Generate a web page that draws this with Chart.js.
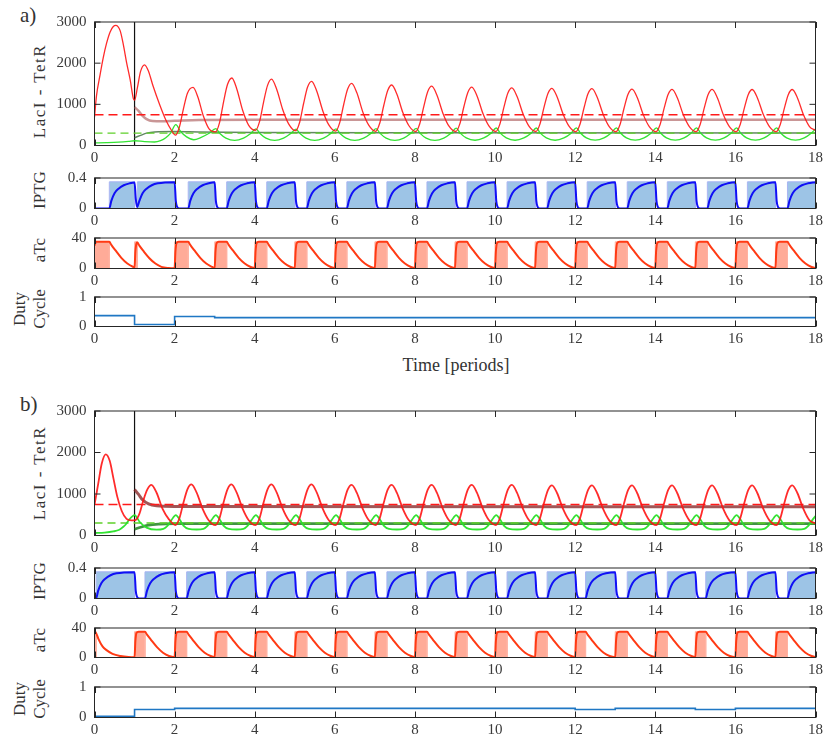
<!DOCTYPE html>
<html>
<head>
<meta charset="utf-8">
<script src="https://cdn.jsdelivr.net/npm/chart.js@4.4.1/dist/chart.umd.min.js"></script>
<style>
  body { margin: 0; background: #fff; }
  #fig { position: relative; width: 827px; height: 743px; font-family: "Liberation Serif", "DejaVu Serif", serif; color: #333; overflow: hidden; }
  #fig canvas { position: absolute; left: 0; }
  .tag { position: absolute; font-size: 21px; }
  .ylab { position: absolute; white-space: nowrap; transform: translate(-50%, -50%) rotate(-90deg); font-size: 17px; }
  .xlab { position: absolute; white-space: nowrap; transform: translate(-50%, -50%); font-size: 18px; }
</style>
</head>
<body>
<div id="fig">
  <div class="tag" style="left:20px;top:3px">a)</div>
  <div class="tag" style="left:20px;top:392px">b)</div>
  <div class="ylab" style="left:40px;top:91px;letter-spacing:1.5px">LacI - TetR</div>
  <div class="ylab" style="left:40px;top:190px">IPTG</div>
  <div class="ylab" style="left:40px;top:250px">aTc</div>
  <div class="ylab" style="left:20px;top:309px">Duty</div>
  <div class="ylab" style="left:40px;top:309px">Cycle</div>
  <div class="xlab" style="left:456px;top:365px">Time [periods]</div>
  <div class="ylab" style="left:40px;top:473px;letter-spacing:1.5px">LacI - TetR</div>
  <div class="ylab" style="left:40px;top:581px">IPTG</div>
  <div class="ylab" style="left:40px;top:640px">aTc</div>
  <div class="ylab" style="left:20px;top:699px">Duty</div>
  <div class="ylab" style="left:40px;top:699px">Cycle</div>
</div>
<script>
// ---- data -------------------------------------------------------------
const timeTicks = [0, 2, 4, 6, 8, 10, 12, 14, 16, 18];
const lacTicks = [0, 1000, 2000, 3000];
const iptgTicks = [0, 0.2, 0.4];
const atcTicks = [0, 20, 40];
const dutyTicks = [0, 0.5, 1];

const controlStart = 1;      // feedback switched on after first period
const lacRef = 750;          // LacI reference
const tetRef = 300;          // TetR reference
const iptgDose = 0.35;
const atcDose = 35;

// duty cycle (aTc fraction) per period
const dutyA = [0.37, 0.07, 0.34, 0.30, 0.30, 0.30, 0.30, 0.30, 0.30, 0.30, 0.30, 0.30, 0.30, 0.30, 0.30, 0.30, 0.30, 0.30];
const dutyB = [0.04, 0.26, 0.30, 0.30, 0.30, 0.30, 0.30, 0.30, 0.30, 0.30, 0.30, 0.30, 0.26, 0.30, 0.30, 0.26, 0.30, 0.30];

// case a) LacI / TetR, [time, value]
const lacA = [
  [0, 690], [0.05, 1210], [0.14, 1720], [0.22, 2140], [0.3, 2480], [0.39, 2760], [0.47, 2890], [0.53, 2920], [0.64, 2790], [0.72, 2450], [0.8, 2020], [0.89, 1600], [0.97, 1140],
  [1, 1100], [1.07, 1400], [1.15, 1800], [1.25, 1960], [1.35, 1800], [1.46, 1450], [1.63, 985], [1.79, 600], [1.92, 370],
  [2.02, 250], [2.12, 450], [2.22, 890], [2.32, 1270], [2.46, 1410], [2.58, 1180], [2.72, 710], [2.87, 390],
  [3.02, 330], [3.12, 550], [3.22, 1050], [3.32, 1480], [3.43, 1640], [3.55, 1380], [3.7, 850], [3.85, 490],
  [4.02, 370], [4.12, 580], [4.22, 1050], [4.32, 1460], [4.42, 1610], [4.55, 1360], [4.7, 870], [4.85, 520],
  [5.02, 360], [5.12, 560], [5.22, 1020], [5.32, 1420], [5.42, 1560], [5.55, 1320], [5.7, 840], [5.85, 500],
  [6.02, 350], [6.12, 550], [6.22, 990], [6.32, 1370], [6.42, 1510], [6.55, 1280], [6.7, 810], [6.85, 490],
  [7.02, 345], [7.12, 540], [7.22, 965], [7.32, 1335], [7.42, 1470], [7.55, 1245], [7.7, 795], [7.85, 480],
  [8.02, 340], [8.12, 530], [8.22, 945], [8.32, 1310], [8.42, 1440], [8.55, 1220], [8.7, 780], [8.85, 470],
  [9.02, 340], [9.12, 525], [9.22, 935], [9.32, 1290], [9.42, 1420], [9.55, 1205], [9.7, 770], [9.85, 470],
  [10.02, 340], [10.12, 520], [10.22, 925], [10.32, 1275], [10.42, 1400], [10.55, 1190], [10.7, 765], [10.85, 465],
  [11.02, 340], [11.12, 520], [11.22, 920], [11.32, 1265], [11.42, 1390], [11.55, 1180], [11.7, 760], [11.85, 465],
  [12.02, 335], [12.12, 515], [12.22, 910], [12.32, 1255], [12.42, 1380], [12.55, 1170], [12.7, 755], [12.85, 460],
  [13.02, 335], [13.12, 510], [13.22, 905], [13.32, 1245], [13.42, 1370], [13.55, 1165], [13.7, 750], [13.85, 460],
  [14.02, 335], [14.12, 510], [14.22, 900], [14.32, 1240], [14.42, 1365], [14.55, 1160], [14.7, 745], [14.85, 460],
  [15.02, 335], [15.12, 510], [15.22, 900], [15.32, 1240], [15.42, 1365], [15.55, 1160], [15.7, 745], [15.85, 460],
  [16.02, 335], [16.12, 510], [16.22, 895], [16.32, 1235], [16.42, 1360], [16.55, 1155], [16.7, 745], [16.85, 460],
  [17.02, 335], [17.12, 510], [17.22, 895], [17.32, 1235], [17.42, 1360], [17.55, 1155], [17.7, 745], [17.85, 460],
  [18, 370]
];
const tetA = [
  [0, 62], [0.3, 70], [0.6, 82], [0.85, 100], [1, 115], [1.25, 95], [1.5, 85], [1.65, 120], [1.78, 190], [1.9, 300],
  [2.03, 505], [2.15, 340], [2.3, 210], [2.48, 140], [2.65, 190], [2.85, 290],
  [3.03, 410], [3.13, 290], [3.28, 180], [3.5, 125], [3.72, 180], [3.9, 290],
  [4.03, 405], [4.13, 290], [4.28, 180], [4.5, 125], [4.72, 180], [4.9, 290],
  [5.03, 400], [5.13, 290], [5.28, 180], [5.5, 125], [5.72, 180], [5.9, 290],
  [6.03, 405], [6.13, 290], [6.28, 180], [6.5, 125], [6.72, 180], [6.9, 290],
  [7.03, 410], [7.13, 295], [7.28, 180], [7.5, 125], [7.72, 180], [7.9, 295],
  [8.03, 415], [8.13, 295], [8.28, 180], [8.5, 125], [8.72, 180], [8.9, 295],
  [9.03, 420], [9.13, 300], [9.28, 185], [9.5, 128], [9.72, 185], [9.9, 300],
  [10.03, 425], [10.13, 300], [10.28, 185], [10.5, 128], [10.72, 185], [10.9, 300],
  [11.03, 425], [11.13, 300], [11.28, 185], [11.5, 128], [11.72, 185], [11.9, 300],
  [12.03, 430], [12.13, 305], [12.28, 185], [12.5, 130], [12.72, 185], [12.9, 305],
  [13.03, 430], [13.13, 305], [13.28, 185], [13.5, 130], [13.72, 185], [13.9, 305],
  [14.03, 430], [14.13, 305], [14.28, 185], [14.5, 130], [14.72, 185], [14.9, 305],
  [15.03, 430], [15.13, 305], [15.28, 185], [15.5, 130], [15.72, 185], [15.9, 305],
  [16.03, 430], [16.13, 305], [16.28, 185], [16.5, 130], [16.72, 185], [16.9, 305],
  [17.03, 430], [17.13, 305], [17.28, 185], [17.5, 130], [17.72, 185], [17.9, 305],
  [18, 400]
];
const lacMeanA = [[1, 930], [1.1, 840], [1.2, 720], [1.3, 640], [1.45, 595], [1.7, 590], [2, 600], [2.6, 620], [4, 625], [18, 625]];
const tetMeanA = [[1, 190], [1.15, 245], [1.3, 300], [1.5, 330], [2, 340], [2.6, 330], [4, 315], [8, 308], [18, 305]];

const iptgA = [
  [0, 0], [0.37, 0], [0.42, 0.1], [0.5, 0.2], [0.6, 0.26], [0.73, 0.305], [0.88, 0.33], [1, 0.34],
  [1.03, 0.13], [1.065, 0.02], [1.12, 0.1], [1.2, 0.2], [1.3, 0.26], [1.43, 0.305], [1.58, 0.33], [2, 0.345],
  [2.03, 0.1], [2.06, 0.025], [2.12, 0], [2.34, 0], [2.39, 0.1], [2.47, 0.2], [2.57, 0.26], [2.7, 0.305], [2.85, 0.33], [3, 0.345],
  [3.03, 0.1], [3.06, 0.025], [3.12, 0], [3.3, 0], [3.35, 0.1], [3.43, 0.2], [3.53, 0.26], [3.66, 0.305], [3.81, 0.33], [4, 0.345],
  [4.03, 0.1], [4.06, 0.025], [4.12, 0], [4.3, 0], [4.35, 0.1], [4.43, 0.2], [4.53, 0.26], [4.66, 0.305], [4.81, 0.33], [5, 0.345],
  [5.03, 0.1], [5.06, 0.025], [5.12, 0], [5.3, 0], [5.35, 0.1], [5.43, 0.2], [5.53, 0.26], [5.66, 0.305], [5.81, 0.33], [6, 0.345],
  [6.03, 0.1], [6.06, 0.025], [6.12, 0], [6.3, 0], [6.35, 0.1], [6.43, 0.2], [6.53, 0.26], [6.66, 0.305], [6.81, 0.33], [7, 0.345],
  [7.03, 0.1], [7.06, 0.025], [7.12, 0], [7.3, 0], [7.35, 0.1], [7.43, 0.2], [7.53, 0.26], [7.66, 0.305], [7.81, 0.33], [8, 0.345],
  [8.03, 0.1], [8.06, 0.025], [8.12, 0], [8.3, 0], [8.35, 0.1], [8.43, 0.2], [8.53, 0.26], [8.66, 0.305], [8.81, 0.33], [9, 0.345],
  [9.03, 0.1], [9.06, 0.025], [9.12, 0], [9.3, 0], [9.35, 0.1], [9.43, 0.2], [9.53, 0.26], [9.66, 0.305], [9.81, 0.33], [10, 0.345],
  [10.03, 0.1], [10.06, 0.025], [10.12, 0], [10.3, 0], [10.35, 0.1], [10.43, 0.2], [10.53, 0.26], [10.66, 0.305], [10.81, 0.33], [11, 0.345],
  [11.03, 0.1], [11.06, 0.025], [11.12, 0], [11.3, 0], [11.35, 0.1], [11.43, 0.2], [11.53, 0.26], [11.66, 0.305], [11.81, 0.33], [12, 0.345],
  [12.03, 0.1], [12.06, 0.025], [12.12, 0], [12.3, 0], [12.35, 0.1], [12.43, 0.2], [12.53, 0.26], [12.66, 0.305], [12.81, 0.33], [13, 0.345],
  [13.03, 0.1], [13.06, 0.025], [13.12, 0], [13.3, 0], [13.35, 0.1], [13.43, 0.2], [13.53, 0.26], [13.66, 0.305], [13.81, 0.33], [14, 0.345],
  [14.03, 0.1], [14.06, 0.025], [14.12, 0], [14.3, 0], [14.35, 0.1], [14.43, 0.2], [14.53, 0.26], [14.66, 0.305], [14.81, 0.33], [15, 0.345],
  [15.03, 0.1], [15.06, 0.025], [15.12, 0], [15.3, 0], [15.35, 0.1], [15.43, 0.2], [15.53, 0.26], [15.66, 0.305], [15.81, 0.33], [16, 0.345],
  [16.03, 0.1], [16.06, 0.025], [16.12, 0], [16.3, 0], [16.35, 0.1], [16.43, 0.2], [16.53, 0.26], [16.66, 0.305], [16.81, 0.33], [17, 0.345],
  [17.03, 0.1], [17.06, 0.025], [17.12, 0], [17.3, 0], [17.35, 0.1], [17.43, 0.2], [17.53, 0.26], [17.66, 0.305], [17.81, 0.33], [18, 0.345]
];
const atcA = [
  [0, 30], [0.04, 35], [0.37, 35], [0.42, 31], [0.52, 24], [0.67, 14], [0.82, 6.5], [0.97, 2],
  [1, 1.5], [1.02, 22], [1.05, 33], [1.07, 34], [1.12, 30], [1.22, 23], [1.37, 13.5], [1.52, 6.5], [1.67, 2.2], [1.85, 0.6],
  [2, 0.3], [2.02, 22], [2.05, 33.5], [2.1, 35], [2.34, 35], [2.39, 31], [2.49, 24], [2.64, 14], [2.79, 6.5], [2.94, 2],
  [3, 0.5], [3.02, 22], [3.05, 33.5], [3.1, 35], [3.3, 35], [3.35, 31], [3.45, 24], [3.6, 14], [3.75, 6.5], [3.9, 2],
  [4, 0.5], [4.02, 22], [4.05, 33.5], [4.1, 35], [4.3, 35], [4.35, 31], [4.45, 24], [4.6, 14], [4.75, 6.5], [4.9, 2],
  [5, 0.5], [5.02, 22], [5.05, 33.5], [5.1, 35], [5.3, 35], [5.35, 31], [5.45, 24], [5.6, 14], [5.75, 6.5], [5.9, 2],
  [6, 0.5], [6.02, 22], [6.05, 33.5], [6.1, 35], [6.3, 35], [6.35, 31], [6.45, 24], [6.6, 14], [6.75, 6.5], [6.9, 2],
  [7, 0.5], [7.02, 22], [7.05, 33.5], [7.1, 35], [7.3, 35], [7.35, 31], [7.45, 24], [7.6, 14], [7.75, 6.5], [7.9, 2],
  [8, 0.5], [8.02, 22], [8.05, 33.5], [8.1, 35], [8.3, 35], [8.35, 31], [8.45, 24], [8.6, 14], [8.75, 6.5], [8.9, 2],
  [9, 0.5], [9.02, 22], [9.05, 33.5], [9.1, 35], [9.3, 35], [9.35, 31], [9.45, 24], [9.6, 14], [9.75, 6.5], [9.9, 2],
  [10, 0.5], [10.02, 22], [10.05, 33.5], [10.1, 35], [10.3, 35], [10.35, 31], [10.45, 24], [10.6, 14], [10.75, 6.5], [10.9, 2],
  [11, 0.5], [11.02, 22], [11.05, 33.5], [11.1, 35], [11.3, 35], [11.35, 31], [11.45, 24], [11.6, 14], [11.75, 6.5], [11.9, 2],
  [12, 0.5], [12.02, 22], [12.05, 33.5], [12.1, 35], [12.3, 35], [12.35, 31], [12.45, 24], [12.6, 14], [12.75, 6.5], [12.9, 2],
  [13, 0.5], [13.02, 22], [13.05, 33.5], [13.1, 35], [13.3, 35], [13.35, 31], [13.45, 24], [13.6, 14], [13.75, 6.5], [13.9, 2],
  [14, 0.5], [14.02, 22], [14.05, 33.5], [14.1, 35], [14.3, 35], [14.35, 31], [14.45, 24], [14.6, 14], [14.75, 6.5], [14.9, 2],
  [15, 0.5], [15.02, 22], [15.05, 33.5], [15.1, 35], [15.3, 35], [15.35, 31], [15.45, 24], [15.6, 14], [15.75, 6.5], [15.9, 2],
  [16, 0.5], [16.02, 22], [16.05, 33.5], [16.1, 35], [16.3, 35], [16.35, 31], [16.45, 24], [16.6, 14], [16.75, 6.5], [16.9, 2],
  [17, 0.5], [17.02, 22], [17.05, 33.5], [17.1, 35], [17.3, 35], [17.35, 31], [17.45, 24], [17.6, 14], [17.75, 6.5], [17.9, 2],
  [18, 0.5]
];

// case b)
const lacB = [
  [0, 740], [0.09, 1230], [0.18, 1730], [0.28, 1955], [0.38, 1800], [0.47, 1390], [0.57, 930], [0.68, 590], [0.8, 400], [0.92, 365],
  [1.02, 370], [1.12, 520], [1.22, 850], [1.32, 1110], [1.42, 1220], [1.55, 1030], [1.7, 640], [1.85, 400],
  [2.02, 250], [2.12, 417], [2.22, 789], [2.32, 1112], [2.42, 1230], [2.55, 1034], [2.7, 642], [2.85, 368],
  [3.02, 250], [3.12, 417], [3.22, 789], [3.32, 1112], [3.42, 1230], [3.55, 1034], [3.7, 642], [3.85, 368],
  [4.02, 250], [4.12, 417], [4.22, 789], [4.32, 1112], [4.42, 1230], [4.55, 1034], [4.7, 642], [4.85, 368],
  [5.02, 250], [5.12, 417], [5.22, 789], [5.32, 1112], [5.42, 1230], [5.55, 1034], [5.7, 642], [5.85, 368],
  [6.02, 250], [6.12, 415], [6.22, 784], [6.32, 1104], [6.42, 1220], [6.55, 1026], [6.7, 638], [6.85, 366],
  [7.02, 250], [7.12, 415], [7.22, 784], [7.32, 1104], [7.42, 1220], [7.55, 1026], [7.7, 638], [7.85, 366],
  [8.02, 250], [8.12, 415], [8.22, 784], [8.32, 1104], [8.42, 1220], [8.55, 1026], [8.7, 638], [8.85, 366],
  [9.02, 250], [9.12, 415], [9.22, 784], [9.32, 1104], [9.42, 1220], [9.55, 1026], [9.7, 638], [9.85, 366],
  [10.02, 250], [10.12, 415], [10.22, 784], [10.32, 1104], [10.42, 1220], [10.55, 1026], [10.7, 638], [10.85, 366],
  [11.02, 250], [11.12, 413], [11.22, 778], [11.32, 1095], [11.42, 1210], [11.55, 1018], [11.7, 634], [11.85, 365],
  [12.02, 250], [12.12, 413], [12.22, 778], [12.32, 1095], [12.42, 1210], [12.55, 1018], [12.7, 634], [12.85, 365],
  [13.02, 250], [13.12, 413], [13.22, 778], [13.32, 1095], [13.42, 1210], [13.55, 1018], [13.7, 634], [13.85, 365],
  [14.02, 250], [14.12, 413], [14.22, 778], [14.32, 1095], [14.42, 1210], [14.55, 1018], [14.7, 634], [14.85, 365],
  [15.02, 250], [15.12, 413], [15.22, 778], [15.32, 1095], [15.42, 1210], [15.55, 1018], [15.7, 634], [15.85, 365],
  [16.02, 250], [16.12, 413], [16.22, 778], [16.32, 1095], [16.42, 1210], [16.55, 1018], [16.7, 634], [16.85, 365],
  [17.02, 250], [17.12, 413], [17.22, 778], [17.32, 1095], [17.42, 1210], [17.55, 1018], [17.7, 634], [17.85, 365],
  [18, 290]
];
const tetB = [
  [0, 60], [0.25, 70], [0.47, 98], [0.62, 140], [0.72, 210], [0.8, 290], [0.88, 400], [1, 493],
  [1.13, 325], [1.3, 190], [1.55, 140], [1.72, 160], [1.82, 230], [1.92, 370],
  [2.03, 490], [2.13, 380], [2.22, 240], [2.35, 160], [2.55, 145], [2.72, 160], [2.82, 230], [2.92, 370],
  [3.03, 490], [3.13, 380], [3.22, 240], [3.35, 160], [3.55, 145], [3.72, 160], [3.82, 230], [3.92, 370],
  [4.03, 490], [4.13, 380], [4.22, 240], [4.35, 160], [4.55, 145], [4.72, 160], [4.82, 230], [4.92, 370],
  [5.03, 490], [5.13, 380], [5.22, 240], [5.35, 160], [5.55, 145], [5.72, 160], [5.82, 230], [5.92, 370],
  [6.03, 490], [6.13, 380], [6.22, 240], [6.35, 160], [6.55, 145], [6.72, 160], [6.82, 230], [6.92, 370],
  [7.03, 490], [7.13, 380], [7.22, 240], [7.35, 160], [7.55, 145], [7.72, 160], [7.82, 230], [7.92, 370],
  [8.03, 490], [8.13, 380], [8.22, 240], [8.35, 160], [8.55, 145], [8.72, 160], [8.82, 230], [8.92, 370],
  [9.03, 490], [9.13, 380], [9.22, 240], [9.35, 160], [9.55, 145], [9.72, 160], [9.82, 230], [9.92, 370],
  [10.03, 490], [10.13, 380], [10.22, 240], [10.35, 160], [10.55, 145], [10.72, 160], [10.82, 230], [10.92, 370],
  [11.03, 490], [11.13, 380], [11.22, 240], [11.35, 160], [11.55, 145], [11.72, 160], [11.82, 230], [11.92, 370],
  [12.03, 490], [12.13, 380], [12.22, 240], [12.35, 160], [12.55, 145], [12.72, 160], [12.82, 230], [12.92, 370],
  [13.03, 490], [13.13, 380], [13.22, 240], [13.35, 160], [13.55, 145], [13.72, 160], [13.82, 230], [13.92, 370],
  [14.03, 490], [14.13, 380], [14.22, 240], [14.35, 160], [14.55, 145], [14.72, 160], [14.82, 230], [14.92, 370],
  [15.03, 490], [15.13, 380], [15.22, 240], [15.35, 160], [15.55, 145], [15.72, 160], [15.82, 230], [15.92, 370],
  [16.03, 490], [16.13, 380], [16.22, 240], [16.35, 160], [16.55, 145], [16.72, 160], [16.82, 230], [16.92, 370],
  [17.03, 490], [17.13, 380], [17.22, 240], [17.35, 160], [17.55, 145], [17.72, 160], [17.82, 230], [17.92, 370],
  [18, 470]
];
const lacMeanB = [[1, 1110], [1.1, 990], [1.2, 860], [1.35, 760], [1.55, 715], [2, 700], [18, 690]];
const tetMeanB = [[1, 150], [1.15, 200], [1.35, 250], [1.6, 275], [2, 285], [18, 285]];

const iptgB = [
  [0, 0], [0.04, 0], [0.09, 0.1], [0.17, 0.2], [0.27, 0.26], [0.4, 0.305], [0.55, 0.33], [1, 0.345],
  [1.03, 0.1], [1.06, 0.025], [1.12, 0], [1.26, 0], [1.31, 0.1], [1.39, 0.2], [1.49, 0.26], [1.62, 0.305], [1.77, 0.33], [2, 0.345],
  [2.03, 0.1], [2.06, 0.025], [2.12, 0], [2.3, 0], [2.35, 0.1], [2.43, 0.2], [2.53, 0.26], [2.66, 0.305], [2.81, 0.33], [3, 0.345],
  [3.03, 0.1], [3.06, 0.025], [3.12, 0], [3.3, 0], [3.35, 0.1], [3.43, 0.2], [3.53, 0.26], [3.66, 0.305], [3.81, 0.33], [4, 0.345],
  [4.03, 0.1], [4.06, 0.025], [4.12, 0], [4.3, 0], [4.35, 0.1], [4.43, 0.2], [4.53, 0.26], [4.66, 0.305], [4.81, 0.33], [5, 0.345],
  [5.03, 0.1], [5.06, 0.025], [5.12, 0], [5.3, 0], [5.35, 0.1], [5.43, 0.2], [5.53, 0.26], [5.66, 0.305], [5.81, 0.33], [6, 0.345],
  [6.03, 0.1], [6.06, 0.025], [6.12, 0], [6.3, 0], [6.35, 0.1], [6.43, 0.2], [6.53, 0.26], [6.66, 0.305], [6.81, 0.33], [7, 0.345],
  [7.03, 0.1], [7.06, 0.025], [7.12, 0], [7.3, 0], [7.35, 0.1], [7.43, 0.2], [7.53, 0.26], [7.66, 0.305], [7.81, 0.33], [8, 0.345],
  [8.03, 0.1], [8.06, 0.025], [8.12, 0], [8.3, 0], [8.35, 0.1], [8.43, 0.2], [8.53, 0.26], [8.66, 0.305], [8.81, 0.33], [9, 0.345],
  [9.03, 0.1], [9.06, 0.025], [9.12, 0], [9.3, 0], [9.35, 0.1], [9.43, 0.2], [9.53, 0.26], [9.66, 0.305], [9.81, 0.33], [10, 0.345],
  [10.03, 0.1], [10.06, 0.025], [10.12, 0], [10.3, 0], [10.35, 0.1], [10.43, 0.2], [10.53, 0.26], [10.66, 0.305], [10.81, 0.33], [11, 0.345],
  [11.03, 0.1], [11.06, 0.025], [11.12, 0], [11.3, 0], [11.35, 0.1], [11.43, 0.2], [11.53, 0.26], [11.66, 0.305], [11.81, 0.33], [12, 0.345],
  [12.03, 0.1], [12.06, 0.025], [12.12, 0], [12.26, 0], [12.31, 0.1], [12.39, 0.2], [12.49, 0.26], [12.62, 0.305], [12.77, 0.33], [13, 0.345],
  [13.03, 0.1], [13.06, 0.025], [13.12, 0], [13.3, 0], [13.35, 0.1], [13.43, 0.2], [13.53, 0.26], [13.66, 0.305], [13.81, 0.33], [14, 0.345],
  [14.03, 0.1], [14.06, 0.025], [14.12, 0], [14.3, 0], [14.35, 0.1], [14.43, 0.2], [14.53, 0.26], [14.66, 0.305], [14.81, 0.33], [15, 0.345],
  [15.03, 0.1], [15.06, 0.025], [15.12, 0], [15.26, 0], [15.31, 0.1], [15.39, 0.2], [15.49, 0.26], [15.62, 0.305], [15.77, 0.33], [16, 0.345],
  [16.03, 0.1], [16.06, 0.025], [16.12, 0], [16.3, 0], [16.35, 0.1], [16.43, 0.2], [16.53, 0.26], [16.66, 0.305], [16.81, 0.33], [17, 0.345],
  [17.03, 0.1], [17.06, 0.025], [17.12, 0], [17.3, 0], [17.35, 0.1], [17.43, 0.2], [17.53, 0.26], [17.66, 0.305], [17.81, 0.33], [18, 0.345]
];
const atcB = [
  [0, 35], [0.04, 33], [0.1, 25], [0.2, 15], [0.3, 10], [0.45, 5], [0.65, 2], [0.85, 0.6],
  [1, 0.3], [1.02, 22], [1.05, 33.5], [1.1, 35], [1.26, 35], [1.31, 31], [1.41, 24], [1.56, 14], [1.71, 6.5], [1.86, 2],
  [2, 0.5], [2.02, 22], [2.05, 33.5], [2.1, 35], [2.3, 35], [2.35, 31], [2.45, 24], [2.6, 14], [2.75, 6.5], [2.9, 2],
  [3, 0.5], [3.02, 22], [3.05, 33.5], [3.1, 35], [3.3, 35], [3.35, 31], [3.45, 24], [3.6, 14], [3.75, 6.5], [3.9, 2],
  [4, 0.5], [4.02, 22], [4.05, 33.5], [4.1, 35], [4.3, 35], [4.35, 31], [4.45, 24], [4.6, 14], [4.75, 6.5], [4.9, 2],
  [5, 0.5], [5.02, 22], [5.05, 33.5], [5.1, 35], [5.3, 35], [5.35, 31], [5.45, 24], [5.6, 14], [5.75, 6.5], [5.9, 2],
  [6, 0.5], [6.02, 22], [6.05, 33.5], [6.1, 35], [6.3, 35], [6.35, 31], [6.45, 24], [6.6, 14], [6.75, 6.5], [6.9, 2],
  [7, 0.5], [7.02, 22], [7.05, 33.5], [7.1, 35], [7.3, 35], [7.35, 31], [7.45, 24], [7.6, 14], [7.75, 6.5], [7.9, 2],
  [8, 0.5], [8.02, 22], [8.05, 33.5], [8.1, 35], [8.3, 35], [8.35, 31], [8.45, 24], [8.6, 14], [8.75, 6.5], [8.9, 2],
  [9, 0.5], [9.02, 22], [9.05, 33.5], [9.1, 35], [9.3, 35], [9.35, 31], [9.45, 24], [9.6, 14], [9.75, 6.5], [9.9, 2],
  [10, 0.5], [10.02, 22], [10.05, 33.5], [10.1, 35], [10.3, 35], [10.35, 31], [10.45, 24], [10.6, 14], [10.75, 6.5], [10.9, 2],
  [11, 0.5], [11.02, 22], [11.05, 33.5], [11.1, 35], [11.3, 35], [11.35, 31], [11.45, 24], [11.6, 14], [11.75, 6.5], [11.9, 2],
  [12, 0.5], [12.02, 22], [12.05, 33.5], [12.1, 35], [12.26, 35], [12.31, 31], [12.41, 24], [12.56, 14], [12.71, 6.5], [12.86, 2],
  [13, 0.5], [13.02, 22], [13.05, 33.5], [13.1, 35], [13.3, 35], [13.35, 31], [13.45, 24], [13.6, 14], [13.75, 6.5], [13.9, 2],
  [14, 0.5], [14.02, 22], [14.05, 33.5], [14.1, 35], [14.3, 35], [14.35, 31], [14.45, 24], [14.6, 14], [14.75, 6.5], [14.9, 2],
  [15, 0.5], [15.02, 22], [15.05, 33.5], [15.1, 35], [15.26, 35], [15.31, 31], [15.41, 24], [15.56, 14], [15.71, 6.5], [15.86, 2],
  [16, 0.5], [16.02, 22], [16.05, 33.5], [16.1, 35], [16.3, 35], [16.35, 31], [16.45, 24], [16.6, 14], [16.75, 6.5], [16.9, 2],
  [17, 0.5], [17.02, 22], [17.05, 33.5], [17.1, 35], [17.3, 35], [17.35, 31], [17.45, 24], [17.6, 14], [17.75, 6.5], [17.9, 2],
  [18, 0.5]
];

// ---- helpers ----------------------------------------------------------
const tickFont = { family: "'Liberation Serif', 'DejaVu Serif', serif", size: 15 };
Chart.defaults.font.family = tickFont.family;
Chart.defaults.font.size = 15;
Chart.defaults.color = '#3a3a3a';

const pts = arr => arr.map(([x, y]) => ({ x, y }));

function curve(arr, color, width, extra) {
  return Object.assign({
    data: pts(arr), borderColor: color, borderWidth: width, pointRadius: 0,
    fill: false, cubicInterpolationMode: 'monotone'
  }, extra || {});
}

function flat(value, color, width, dash) {
  return { data: pts([[0, value], [timeTicks[timeTicks.length - 1], value]]), borderColor: color, borderWidth: width, borderDash: dash, pointRadius: 0, fill: false };
}

// pulse rectangles; onIptg=true -> IPTG part of the period, else aTc part
function pulses(duty, dose, onIptg) {
  const out = [];
  duty.forEach((d, k) => {
    const s = onIptg ? k + d : k;
    const e = onIptg ? k + 1 : k + d;
    out.push({ x: s, y: 0 }, { x: s, y: dose }, { x: e, y: dose }, { x: e, y: 0 }, { x: e, y: null });
  });
  return out;
}

function dutySteps(duty) {
  const arr = duty.map((d, k) => ({ x: k, y: d }));
  arr.push({ x: duty.length, y: duty[duty.length - 1] });
  return arr;
}

// box with inward ticks on all four sides
const frame = {
  id: 'frame',
  afterDatasetsDraw(chart) {
    const { ctx, chartArea: a, scales: { x, y } } = chart;
    const len = 6;
    ctx.save();
    ctx.strokeStyle = '#262626';
    ctx.lineWidth = 1;
    ctx.beginPath();
    x.ticks.forEach(t => {
      const px = Math.round(x.getPixelForValue(t.value)) + 0.5;
      ctx.moveTo(px, a.bottom); ctx.lineTo(px, a.bottom - len);
      ctx.moveTo(px, a.top); ctx.lineTo(px, a.top + len);
    });
    y.ticks.forEach(t => {
      const py = y.getPixelForValue(t.value);
      ctx.moveTo(a.left, py); ctx.lineTo(a.left + len, py);
      ctx.moveTo(a.right, py); ctx.lineTo(a.right - len, py);
    });
    ctx.stroke();
    ctx.strokeRect(a.left, a.top, a.right - a.left, a.bottom - a.top);
    ctx.restore();
  }
};

function makeChart(boxTop, boxH, yTicks, datasets) {
  const cv = document.createElement('canvas');
  cv.width = 827;
  cv.height = boxH + 34;
  cv.style.top = (boxTop - 11) + 'px';
  document.getElementById('fig').appendChild(cv);
  return new Chart(cv, {
    type: 'line',
    data: { datasets },
    options: {
      responsive: false,
      animation: false,
      devicePixelRatio: 1,
      layout: { padding: { top: 10.5, right: 8.5, left: 0, bottom: 0 } },
      plugins: { legend: { display: false }, tooltip: { enabled: false } },
      elements: { point: { radius: 0 }, line: { tension: 0 } },
      scales: {
        x: {
          type: 'linear', min: timeTicks[0], max: timeTicks[timeTicks.length - 1],
          grid: { display: false, drawTicks: false }, border: { display: false },
          afterBuildTicks: s => { s.ticks = timeTicks.map(v => ({ value: v })); },
          afterFit: s => { s.height = 23.5; },
          ticks: { padding: 4, maxRotation: 0, autoSkip: false, font: tickFont }
        },
        y: {
          min: yTicks[0], max: yTicks[yTicks.length - 1],
          grid: { display: false, drawTicks: false }, border: { display: false },
          afterBuildTicks: s => { s.ticks = yTicks.map(v => ({ value: v })); },
          afterFit: s => { s.width = 94.5; },
          ticks: { padding: 8, font: tickFont, callback: v => String(v) }
        }
      }
    },
    plugins: [frame]
  });
}

function lacTetSets(lac, tet, lacMean, tetMean, w, meanRed, meanGreen, meanW) {
  return [
    curve(lac, 'rgba(255,20,20,0.9)', w),
    curve(tet, 'rgba(40,225,40,0.95)', w),
    flat(lacRef, '#ff1a1a', 1.5, [9, 5]),
    flat(tetRef, '#5fcf2a', 1.4, [8, 5]),
    curve(lacMean, meanRed, meanW[0]),
    curve(tetMean, meanGreen, meanW[1]),
    { data: pts([[controlStart, lacTicks[0]], [controlStart, lacTicks[lacTicks.length - 1]]]), borderColor: '#111', borderWidth: 1.2, pointRadius: 0, fill: false }
  ];
}

function iptgSets(resp, duty) {
  return [
    curve(resp, '#1010f5', 2),
    { data: pulses(duty, iptgDose, true), borderColor: '#a7b4f2', borderWidth: 1, backgroundColor: '#9dc4e6', fill: 'origin', pointRadius: 0 }
  ];
}

function atcSets(resp, duty) {
  return [
    curve(resp, '#ff3a14', 2),
    { data: pulses(duty, atcDose, false), borderColor: '#ffb2a2', borderWidth: 1, backgroundColor: '#ffab98', fill: 'origin', pointRadius: 0 }
  ];
}

function dutySets(duty) {
  return [{ data: dutySteps(duty), borderColor: '#1f77c4', borderWidth: 1.6, stepped: true, pointRadius: 0, fill: false }];
}

// ---- case a ----
makeChart(16, 130, lacTicks, lacTetSets(lacA, tetA, lacMeanA, tetMeanA, 1.3, 'rgba(165,80,80,0.6)', 'rgba(70,115,70,0.85)', [2.4, 1.5]));
makeChart(172, 37, iptgTicks, iptgSets(iptgA, dutyA));
makeChart(232, 37, atcTicks, atcSets(atcA, dutyA));
makeChart(291, 36, dutyTicks, dutySets(dutyA));

// ---- case b ----
makeChart(405, 131, lacTicks, lacTetSets(lacB, tetB, lacMeanB, tetMeanB, 1.8, 'rgba(130,30,30,0.75)', 'rgba(30,130,30,0.85)', [3, 2.6]));
makeChart(562, 37, iptgTicks, iptgSets(iptgB, dutyB));
makeChart(622, 36, atcTicks, atcSets(atcB, dutyB));
makeChart(681, 37, dutyTicks, dutySets(dutyB));
</script>
</body>
</html>
